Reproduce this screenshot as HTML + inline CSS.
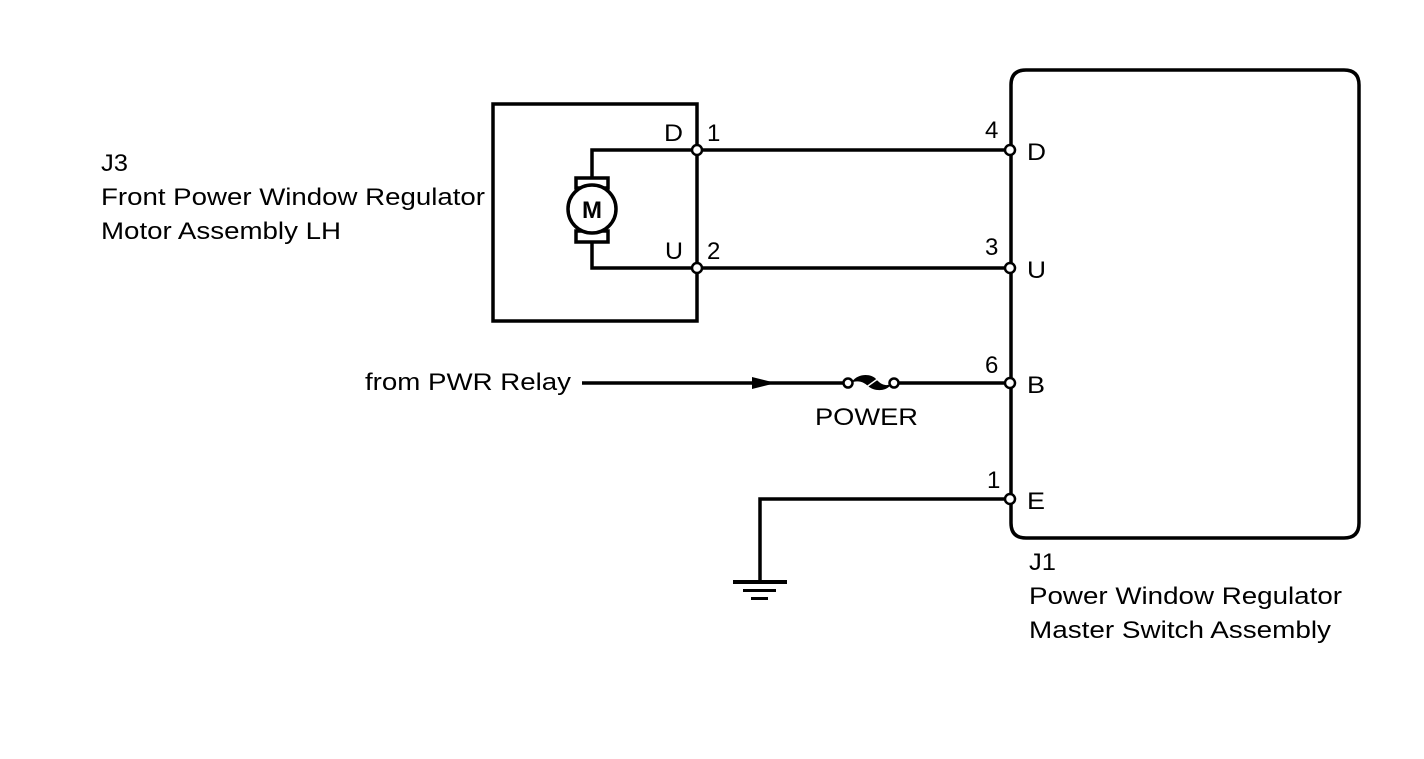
<!DOCTYPE html>
<html><head><meta charset="utf-8"><style>
html,body{margin:0;padding:0;background:#fff;}
svg{display:block;}
text{font-family:"Liberation Sans",Arial,sans-serif;fill:#000;}
</style></head><body>
<svg width="1424" height="759" viewBox="0 0 1424 759" xmlns="http://www.w3.org/2000/svg">
<g fill="none" stroke="#000" stroke-width="3.5">
<rect x="493" y="104" width="204" height="217"/>
<polyline points="697,150 592,150 592,178"/>
<polyline points="592,242 592,268 697,268"/>
<rect x="576" y="178" width="32" height="10"/>
<rect x="576" y="231" width="32" height="11"/>
<circle cx="592" cy="209" r="24" fill="#fff"/>
<line x1="697" y1="150" x2="1010" y2="150"/>
<line x1="697" y1="268" x2="1010" y2="268"/>
<path d="M1011,523 L1011,85 Q1011,70 1026,70 L1344,70 Q1359,70 1359,85 L1359,523 Q1359,538 1344,538 L1026,538 Q1011,538 1011,523"/>
<line x1="582" y1="383" x2="845" y2="383"/>
<line x1="896" y1="383" x2="1010" y2="383"/>
<polyline points="1010,499 760,499 760,582"/>
</g>
<polygon points="752,377 776,383 752,389" fill="#000"/>
<path d="M851,383 C858,372 872,374 876,379 C881,385 887,387 892,383 C887,393 873,391 868,386 C863,381 856,380 851,383 Z" fill="#000"/>
<line x1="865" y1="388" x2="879" y2="378" stroke="#fff" stroke-width="1.5"/>
<g fill="#fff" stroke="#000" stroke-width="2.5">
<circle cx="848" cy="383" r="4.5"/>
<circle cx="894" cy="383" r="4.5"/>
<circle cx="697" cy="150" r="5"/>
<circle cx="697" cy="268" r="5"/>
<circle cx="1010" cy="150" r="5"/>
<circle cx="1010" cy="268" r="5"/>
<circle cx="1010" cy="383" r="5"/>
<circle cx="1010" cy="499" r="5"/>
</g>
<rect x="733" y="580" width="54" height="4" fill="#000"/>
<rect x="743" y="589" width="33" height="3" fill="#000"/>
<rect x="751" y="597" width="17" height="3" fill="#000"/>
<g font-size="24">
<text x="592" y="218" font-weight="bold" font-size="24" text-anchor="middle">M</text>
<text x="101" y="171" textLength="27" lengthAdjust="spacingAndGlyphs">J3</text>
<text x="101" y="205" textLength="384" lengthAdjust="spacingAndGlyphs">Front Power Window Regulator</text>
<text x="101" y="239" textLength="240" lengthAdjust="spacingAndGlyphs">Motor Assembly LH</text>
<text x="664" y="141" textLength="19" lengthAdjust="spacingAndGlyphs">D</text>
<text x="707" y="141">1</text>
<text x="665" y="259" textLength="18" lengthAdjust="spacingAndGlyphs">U</text>
<text x="707" y="259">2</text>
<text x="985" y="138">4</text>
<text x="1027" y="160" textLength="19" lengthAdjust="spacingAndGlyphs">D</text>
<text x="985" y="255">3</text>
<text x="1027" y="278" textLength="19" lengthAdjust="spacingAndGlyphs">U</text>
<text x="985" y="373">6</text>
<text x="1027" y="393" textLength="18" lengthAdjust="spacingAndGlyphs">B</text>
<text x="987" y="488">1</text>
<text x="1027" y="509" textLength="18" lengthAdjust="spacingAndGlyphs">E</text>
<text x="365" y="390" textLength="206" lengthAdjust="spacingAndGlyphs">from PWR Relay</text>
<text x="815" y="425" textLength="103" lengthAdjust="spacingAndGlyphs">POWER</text>
<text x="1029" y="570" textLength="27" lengthAdjust="spacingAndGlyphs">J1</text>
<text x="1029" y="604" textLength="313" lengthAdjust="spacingAndGlyphs">Power Window Regulator</text>
<text x="1029" y="638" textLength="302" lengthAdjust="spacingAndGlyphs">Master Switch Assembly</text>
</g>
</svg>
</body></html>
